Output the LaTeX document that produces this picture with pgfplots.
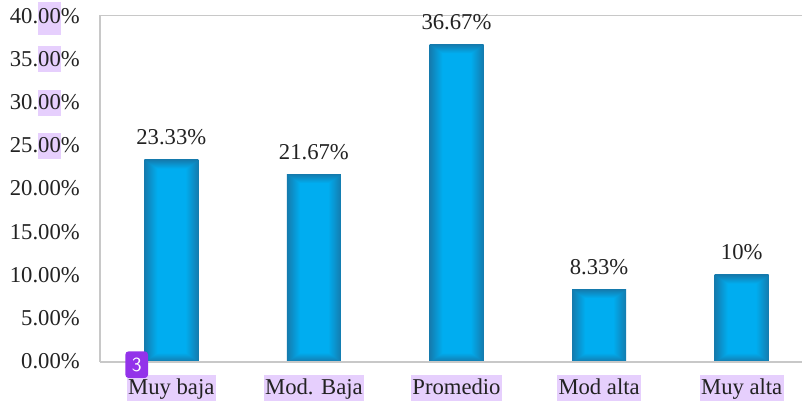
\documentclass[border=0pt]{standalone}
\usepackage{pgfplots}
\usepackage{fontspec}
\setmainfont{Liberation Serif}
\pgfplotsset{compat=1.18}
\definecolor{hl}{HTML}{E6CFFD}
\definecolor{axgray}{HTML}{C8C8C8}
\definecolor{badge}{HTML}{9333EA}
\definecolor{txt}{HTML}{222222}
\newcommand\hlbox[3]{{\setlength{\fboxsep}{0pt}\colorbox{hl}{\rule[-#2]{0pt}{#3}00}}}
% inner-shadow shading: #1 name, #2 vertical margin (the bar fills 25..75 of the shading box)
\newcommand\barshade[2]{%
\pgfdeclarefunctionalshading{#1}{\pgfpointorigin}{\pgfpoint{100bp}{100bp}}{}{%
  25 sub dup 50 exch sub 2 copy gt {exch} if pop #2 div
  exch
  25 sub dup 50 exch sub 2 copy gt {exch} if pop 12 div
  2 copy gt {exch} if pop
  dup 1 gt {pop 1} if
  dup 0 lt {pop 0} if
  dup 0.20 mul 0.48 add
  exch dup 0.26 mul 0.68 add
  exch 1 exch sub 0.08 mul
  3 1 roll
}}
\barshade{barA}{2.2}
\barshade{barB}{2.4}
\barshade{barC}{1.4}
\barshade{barD}{6}
\barshade{barE}{5}
\begin{document}
\fontsize{17}{20}\selectfont
\begin{tikzpicture}
\useasboundingbox (0,0) rectangle (601.5pt,301.5pt);
\begin{axis}[
  at={(75pt,30.4pt)}, anchor=south west,
  scale only axis, width=534.75pt, height=259.4pt,
  xmin=-0.5, xmax=4.5, ymin=0, ymax=40,
  ytick={0,5,10,15,20,25,30,35,40},
  yticklabels={0.00\%,5.00\%,10.00\%,15.00\%,20.00\%,{25.\hlbox{}{4.5pt}{19.5pt}\%},{30.\hlbox{}{4.5pt}{19.5pt}\%},{35.\hlbox{}{4.5pt}{19.5pt}\%},{40.\hlbox{}{9pt}{24.75pt}\%}},
  xtick={0,1,2,3,4},
  xticklabels={Muy baja,Mod. Baja,Promedio,Mod alta,Muy alta},
  major tick length=0pt,
  axis line style={axgray,line width=1.1pt},
  ticklabel style={font=\fontsize{17}{20}\selectfont, text=txt},
  yticklabel style={anchor=base east, xshift=-15pt, yshift=-5.6pt, inner xsep=0pt, inner ysep=0pt},
  xticklabel style={fill=hl, inner xsep=1pt, inner ysep=0pt, text height=14.5pt, text depth=5pt, yshift=-10.25pt, anchor=north},
  nodes near coords style={font=\fontsize{17}{20}\selectfont, text=txt, anchor=base, yshift=11.3pt, inner sep=0pt},
  ybar, bar width=40.5pt,
  clip=false,
]
\addplot[bar shift=0pt, draw=none, shade, shading=barA, nodes near coords={23.33\%}] coordinates {(0,23.33)};
\addplot[bar shift=0pt, draw=none, shade, shading=barB, nodes near coords={21.67\%}] coordinates {(1,21.67)};
\addplot[bar shift=0pt, draw=none, shade, shading=barC, nodes near coords={36.67\%}] coordinates {(2,36.67)};
\addplot[bar shift=0pt, draw=none, shade, shading=barD, nodes near coords={8.33\%}] coordinates {(3,8.33)};
\addplot[bar shift=0pt, draw=none, shade, shading=barE, nodes near coords={10\%}] coordinates {(4,10)};
\end{axis}
\fill[axgray] (75pt,29.4pt) rectangle (601.5pt,31pt);
\node[fill=badge, text=white, rounded corners=2.5pt, minimum width=17pt, minimum height=20pt, inner sep=0pt, font=\sffamily\fontsize{15}{16}\selectfont] at (102.5pt,28pt) {3};
\end{tikzpicture}
\end{document}
